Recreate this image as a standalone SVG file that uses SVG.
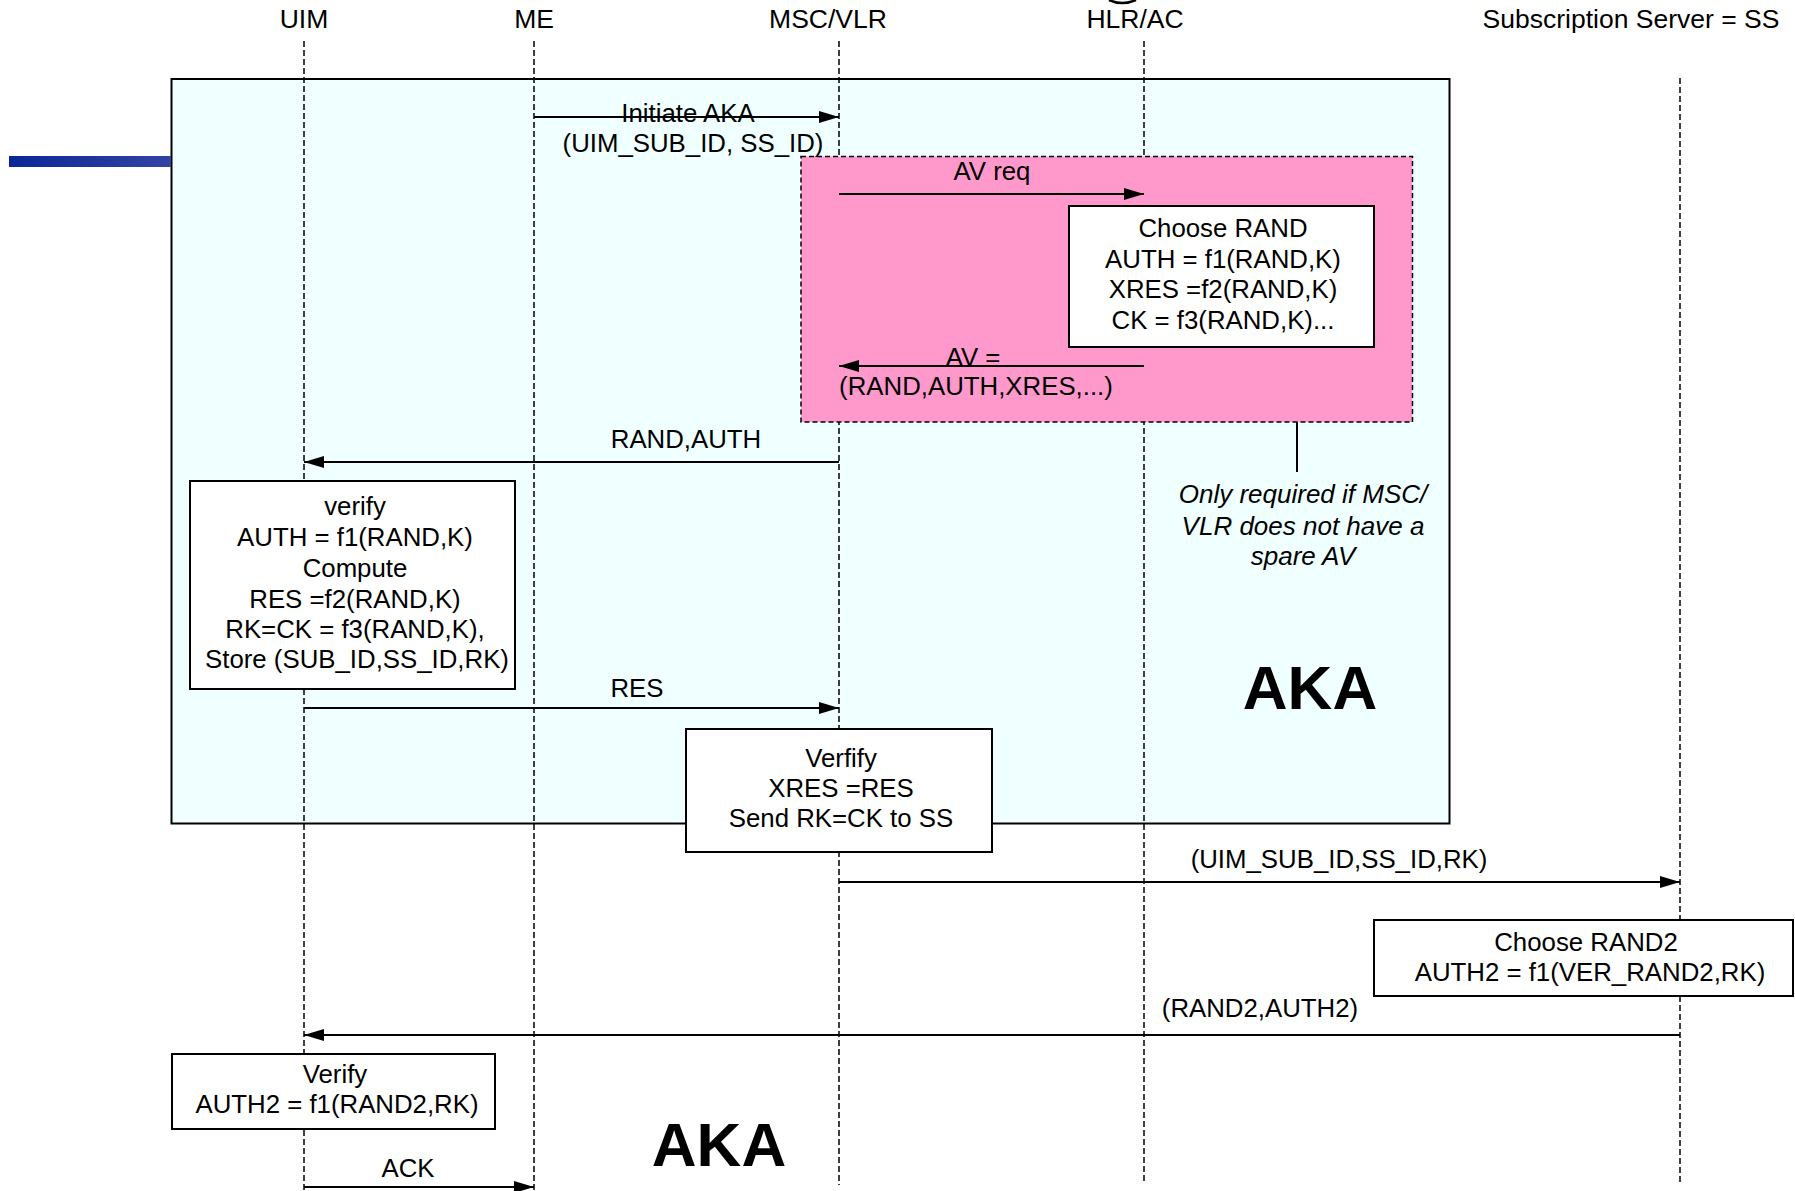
<svg xmlns="http://www.w3.org/2000/svg" width="1795" height="1191" viewBox="0 0 1795 1191">
<defs>
<marker id="ah" markerUnits="userSpaceOnUse" markerWidth="20" markerHeight="12" refX="20" refY="6" orient="auto">
<path d="M0,0 L20,6 L0,12 z" fill="#000"/>
</marker>
<linearGradient id="bar" x1="0" y1="0" x2="1" y2="0">
<stop offset="0" stop-color="#0a2797"/>
<stop offset="1" stop-color="#3343a3"/>
</linearGradient>
<style>
text{font-family:"Liberation Sans",Arial,sans-serif;font-size:25.8px;fill:#000;text-anchor:middle}
.hd{font-size:26.5px}
.it{font-style:italic;font-size:26px}
.big{font-weight:bold;font-size:62px}
.life{stroke:#000;stroke-width:1.5;stroke-dasharray:6 3;fill:none}
.msg{stroke:#000;stroke-width:2;fill:none;marker-end:url(#ah)}
.box{fill:#fff;stroke:#000;stroke-width:2}
</style>
</defs>
<rect width="1795" height="1191" fill="#fff"/>

<g id="aka-frame">
<rect x="171.5" y="79" width="1278" height="744.5" fill="#f0ffff" stroke="#000" stroke-width="2"/>
</g>

<g id="lifelines">
<line class="life" x1="304" y1="41" x2="304" y2="1191"/>
<line class="life" x1="534" y1="41" x2="534" y2="1191"/>
<line class="life" x1="839" y1="41" x2="839" y2="1185"/>
<line class="life" x1="1144" y1="41" x2="1144" y2="1184"/>
<line class="life" x1="1680" y1="78" x2="1680" y2="1184"/>
</g>

<g id="header">
<text class="hd" x="304" y="28">UIM</text>
<text class="hd" x="534" y="28">ME</text>
<text class="hd" x="828" y="28">MSC/VLR</text>
<text class="hd" x="1135" y="28">HLR/AC</text>
<text class="hd" x="1631" y="28">Subscription Server = SS</text>
<path d="M1109,0 Q1122,6 1136,0" fill="none" stroke="#000" stroke-width="2.5"/>
</g>

<g id="blue-bar">
<rect x="9" y="156" width="162" height="11" fill="url(#bar)"/>
</g>

<g id="av-region">
<rect x="801" y="156.5" width="611.5" height="265.5" fill="#ff99cc" stroke="#000" stroke-width="1.5" stroke-dasharray="5 3"/>
</g>

<g id="note">
<line x1="1297" y1="422" x2="1297" y2="472" stroke="#000" stroke-width="2"/>
<text class="it" x="1303" y="503">Only required if MSC/</text>
<text class="it" x="1303" y="535">VLR does not have a</text>
<text class="it" x="1303" y="565">spare AV</text>
</g>

<g id="connectors">
<line class="msg" x1="534" y1="117" x2="839" y2="117"/>
<line class="msg" x1="839" y1="194" x2="1144" y2="194"/>
<line class="msg" x1="1144" y1="366" x2="839" y2="366"/>
<line class="msg" x1="839" y1="462" x2="304" y2="462"/>
<line class="msg" x1="304" y1="708" x2="839" y2="708"/>
<line class="msg" x1="839" y1="882" x2="1680" y2="882"/>
<line class="msg" x1="1680" y1="1035" x2="304" y2="1035"/>
<line class="msg" x1="304" y1="1187" x2="534" y2="1187"/>
<text x="688" y="122">Initiate AKA</text>
<text x="693" y="152">(UIM_SUB_ID, SS_ID)</text>
<text x="992" y="180">AV req</text>
<text x="973" y="366">AV =</text>
<text x="976" y="395">(RAND,AUTH,XRES,...)</text>
<text x="686" y="448">RAND,AUTH</text>
<text x="637" y="697">RES</text>
<text x="1339" y="868">(UIM_SUB_ID,SS_ID,RK)</text>
<text x="1260" y="1017">(RAND2,AUTH2)</text>
<text x="408" y="1177">ACK</text>
</g>

<g id="choose-rand">
<rect class="box" x="1069" y="206" width="305" height="141"/>
<text x="1223" y="237">Choose RAND</text>
<text x="1223" y="268">AUTH = f1(RAND,K)</text>
<text x="1223" y="298">XRES =f2(RAND,K)</text>
<text x="1223" y="329">CK = f3(RAND,K)...</text>
</g>

<g id="uim-verify">
<rect class="box" x="190" y="481" width="325" height="208"/>
<text x="355" y="515">verify</text>
<text x="355" y="546">AUTH = f1(RAND,K)</text>
<text x="355" y="577">Compute</text>
<text x="355" y="608">RES =f2(RAND,K)</text>
<text x="355" y="638">RK=CK = f3(RAND,K),</text>
<text x="357" y="668">Store (SUB_ID,SS_ID,RK)</text>
</g>

<g id="msc-verify">
<rect class="box" x="686" y="729" width="306" height="123"/>
<text x="841" y="767">Verfify</text>
<text x="841" y="797">XRES =RES</text>
<text x="841" y="827">Send RK=CK to SS</text>
</g>

<g id="choose-rand2">
<rect class="box" x="1374" y="920" width="419" height="76"/>
<text x="1586" y="951">Choose RAND2</text>
<text x="1590" y="981">AUTH2 = f1(VER_RAND2,RK)</text>
</g>

<g id="uim-verify2">
<rect class="box" x="172" y="1054" width="323" height="75"/>
<text x="335" y="1083">Verify</text>
<text x="337" y="1113">AUTH2 = f1(RAND2,RK)</text>
</g>

<g id="aka-labels">
<text class="big" x="1310" y="709">AKA</text>
<text class="big" x="719" y="1166">AKA</text>
</g>
</svg>
